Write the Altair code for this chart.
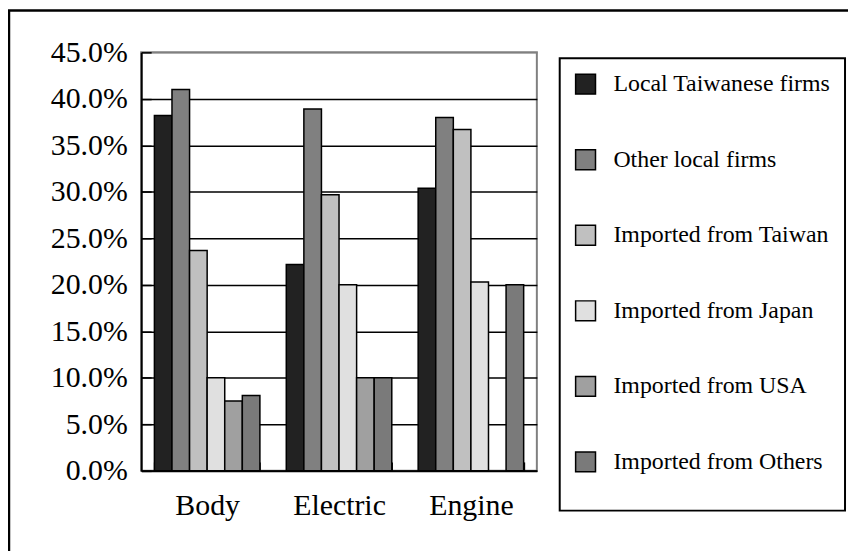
import altair as alt
import pandas as pd

categories = ["Body", "Electric", "Engine"]
series = ["Local Taiwanese firms", "Other local firms", "Imported from Taiwan",
          "Imported from Japan", "Imported from USA", "Imported from Others"]
local_taiwanese = [0.382, 0.222, 0.304]
other_local = [0.410, 0.389, 0.380]
imported_taiwan = [0.237, 0.297, 0.367]
imported_japan = [0.100, 0.200, 0.203]
imported_usa = [0.075, 0.100, None]
imported_others = [0.081, 0.100, 0.200]
colors = ["#222222", "#808080", "#c0c0c0", "#e0e0e0", "#a0a0a0", "#7a7a7a"]
y_ticks = [0.0, 0.05, 0.10, 0.15, 0.20, 0.25, 0.30, 0.35, 0.40, 0.45]

all_values = [local_taiwanese, other_local, imported_taiwan,
              imported_japan, imported_usa, imported_others]
rows = []
for s, vals in zip(series, all_values):
    for c, v in zip(categories, vals):
        if v is not None:
            rows.append({"category": c, "series": s, "value": v})
df = pd.DataFrame(rows)

W, H = 398, 421
PAD_L, PAD_T = 134, 43
TOTAL_W, TOTAL_H = 845, 543

FONT = "Liberation Serif"

bars = alt.Chart(df).mark_bar(stroke="black", strokeWidth=1.5, opacity=1).encode(
    x=alt.X("category:N", sort=categories,
            scale=alt.Scale(paddingInner=0.2, paddingOuter=0.1),
            axis=alt.Axis(title=None, labelAngle=0, labelFont=FONT, labelFontSize=30,
                          labelColor="black", domainColor="black", domainWidth=2,
                          tickBand="extent", tickColor="black", tickWidth=1.5,
                          tickSize=alt.ExprRef("-9"), labelPadding=29, grid=False)),
    xOffset=alt.XOffset("series:N", sort=series,
                        scale=alt.Scale(paddingInner=0, paddingOuter=0)),
    y=alt.Y("value:Q", scale=alt.Scale(domain=[0, 0.45], nice=False),
            axis=alt.Axis(title=None, format=".1%", values=y_ticks, labelFont=FONT,
                          labelFontSize=30, labelColor="black", domainColor="black",
                          domainWidth=2, tickColor="black", tickWidth=1.5,
                          tickSize=alt.ExprRef("-10"), labelPadding=24, grid=True,
                          gridColor=alt.condition("datum.value > 0.44", alt.value("#808080"), alt.value("black")),
                          gridWidth=1.5, gridOpacity=1)),
    color=alt.Color("series:N", sort=series,
                    scale=alt.Scale(domain=series, range=colors),
                    legend=alt.Legend(title=" ", titleOrient="bottom", titleFontSize=17,
                                      titlePadding=6, orient="none", legendX=421, legendY=6,
                                      strokeColor="black", fillColor="white",
                                      padding=14, rowPadding=50, symbolType="square",
                                      symbolSize=400, symbolStrokeColor="black",
                                      symbolStrokeWidth=1.5, symbolOpacity=1,
                                      labelFont=FONT, labelFontSize=24, labelColor="black",
                                      labelOffset=16, labelLimit=400)),
)

frame = alt.Chart(pd.DataFrame({"f": [0]})).mark_rect(
    fill="white", fillOpacity=0, stroke="black", strokeWidth=2.5
).encode(
    x=alt.value(-PAD_L + 1), x2=alt.value(TOTAL_W),
    y=alt.value(-PAD_T + 1), y2=alt.value(TOTAL_H),
)

chart = alt.layer(frame, bars).properties(
    width=W, height=H,
    autosize=alt.AutoSizeParams(type="none"),
    padding={"left": PAD_L, "top": PAD_T, "right": TOTAL_W - PAD_L - W,
             "bottom": TOTAL_H - PAD_T - H},
    background="white",
).configure_view(stroke="#808080", strokeWidth=2).configure_legend(strokeWidth=2)

chart.save("out.html", embed_options={"renderer": "svg", "actions": False})
